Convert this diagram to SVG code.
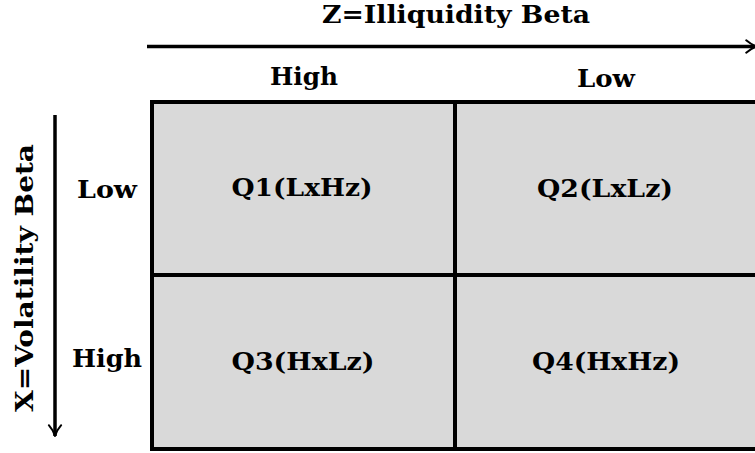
<svg xmlns="http://www.w3.org/2000/svg" width="755" height="453" viewBox="0 0 755 453">
<style>
text{font-family:"DejaVu Serif","Liberation Serif",serif;font-weight:bold;font-size:24px;fill:#000;text-anchor:middle}
.cell{fill:#d9d9d9;stroke:#000;stroke-width:4}
.ax{stroke:#000;stroke-width:3.5;fill:none}
</style>
<defs>
<marker id="ah" viewBox="0 0 10 10" refX="8.5" refY="5" markerWidth="4.4" markerHeight="4.4" orient="auto" markerUnits="strokeWidth">
<path d="M1.5,1 Q5,4 8.5,5 Q5,6 1.5,9" fill="none" stroke="#000" stroke-width="1.3" stroke-linecap="round" stroke-linejoin="round"/>
</marker>
</defs>
<rect width="755" height="453" fill="#fff"/>
<g id="connectors">
<line class="ax" x1="147" y1="46.5" x2="757" y2="46.5" marker-end="url(#ah)"/>
<line class="ax" x1="55" y1="115" x2="55" y2="436" marker-end="url(#ah)"/>
</g>
<g id="labels">
<text x="456" y="23" textLength="268" lengthAdjust="spacingAndGlyphs">Z=Illiquidity Beta</text>
<text x="304" y="85" textLength="68" lengthAdjust="spacingAndGlyphs">High</text>
<text x="606" y="87" textLength="58" lengthAdjust="spacingAndGlyphs">Low</text>
<text x="107" y="198" textLength="60" lengthAdjust="spacingAndGlyphs">Low</text>
<text x="107" y="367" textLength="70" lengthAdjust="spacingAndGlyphs">High</text>
<text transform="translate(33,278) rotate(-90)" textLength="268" lengthAdjust="spacingAndGlyphs">X=Volatility Beta</text>
</g>
<g id="q1"><rect class="cell" x="152" y="102" width="303" height="173"/><text x="302" y="196" textLength="141" lengthAdjust="spacingAndGlyphs">Q1(LxHz)</text></g>
<g id="q2"><rect class="cell" x="455" y="102" width="310" height="173"/><text x="605" y="197" textLength="136" lengthAdjust="spacingAndGlyphs">Q2(LxLz)</text></g>
<g id="q3"><rect class="cell" x="152" y="275" width="303" height="174"/><text x="303" y="370" textLength="143" lengthAdjust="spacingAndGlyphs">Q3(HxLz)</text></g>
<g id="q4"><rect class="cell" x="455" y="275" width="310" height="174"/><text x="606" y="370" textLength="148" lengthAdjust="spacingAndGlyphs">Q4(HxHz)</text></g>
</svg>
